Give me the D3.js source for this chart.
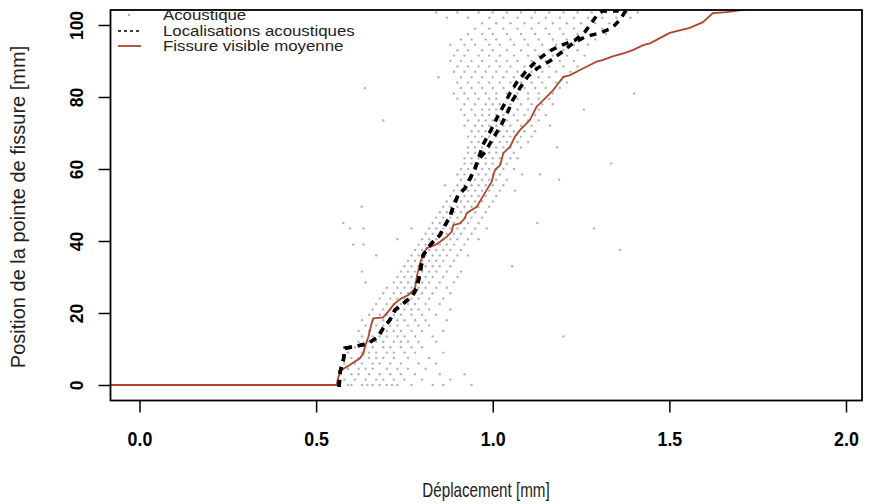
<!DOCTYPE html>
<html><head><meta charset="utf-8">
<script src="https://cdn.jsdelivr.net/npm/d3@7"></script>
<style>body{margin:0;background:#fff} text{font-family:"Liberation Sans",Arial,Helvetica,sans-serif}</style>
</head><body><svg id="c" width="870" height="504"></svg>
<script>
const xTicks=[0,0.5,1,1.5,2];
const yTicks=[0,20,40,60,80,100];
const legendLabels=["Acoustique","Localisations acoustiques","Fissure visible moyenne"];

// acoustic events: rows of y-levels with their x positions
const acRowsY=[0,1.5,3,4.5,6,7.5,9,10.5,12,13.5,15,16.5,18,19.5,21,22.5,24,25.5,27,28.5,30,31.5,33,34.5,36,37.5,39,40.5,42,43.5,45,46.5,48,49.5,51,52.5,54,55.5,57,58.5,60,61.5,63,64.5,66,67.5,69,70.5,72,73.5,75,76.5,78,79.5,81,82.5,84,85.5,87,88.5,90,91.5,93,94.5,96,97.5,99,100.5,102,103.5];
const acRowsX=[
[0.59,0.60,0.63,0.645,0.66,0.68,0.70,0.715,0.73,0.77,0.83,0.86,0.94],
[0.58,0.61,0.64,0.67,0.69,0.72,0.75,0.80,0.88],
[0.57,0.60,0.62,0.65,0.68,0.71,0.74,0.78,0.85,0.92],
[0.59,0.62,0.64,0.66,0.70,0.73,0.76,0.81],
[0.58,0.61,0.63,0.66,0.68,0.71,0.74,0.79,0.84],
[0.60,0.62,0.65,0.67,0.69,0.72,0.76,0.82],
[0.59,0.63,0.65,0.67,0.70,0.72,0.75,0.78,0.86],
[0.61,0.64,0.66,0.69,0.71,0.74,0.77,0.80],
[0.62,0.65,0.67,0.69,0.72,0.74,0.76,0.79,0.84],
[0.63,0.66,0.68,0.70,0.73,0.75,0.78,0.83,1.20],
[0.62,0.65,0.68,0.70,0.72,0.74,0.77,0.80,0.86],
[0.64,0.67,0.69,0.71,0.73,0.76,0.79,0.82],
[0.63,0.66,0.69,0.71,0.73,0.75,0.78,0.81,0.87],
[0.65,0.68,0.70,0.72,0.74,0.77,0.80,0.84],
[0.66,0.69,0.71,0.73,0.75,0.77,0.79,0.82,0.88],
[0.67,0.70,0.72,0.74,0.76,0.78,0.81,0.85],
[0.68,0.71,0.73,0.75,0.77,0.79,0.82,0.86],
[0.69,0.72,0.74,0.76,0.78,0.80,0.83,0.88],
[0.70,0.73,0.75,0.77,0.79,0.81,0.84,0.87],
[0.64,0.72,0.74,0.76,0.78,0.80,0.82,0.85,0.89],
[0.73,0.75,0.77,0.79,0.81,0.83,0.86,0.90],
[0.63,0.74,0.76,0.78,0.80,0.82,0.84,0.87,0.91],
[0.75,0.77,0.79,0.81,0.83,0.85,0.88,1.055],
[0.76,0.78,0.80,0.82,0.84,0.86,0.89],
[0.67,0.77,0.79,0.81,0.83,0.85,0.87,0.90,0.93],
[0.78,0.80,0.82,0.84,0.86,0.88,0.91,1.36],
[0.605,0.634,0.79,0.81,0.83,0.85,0.87,0.89,0.92],
[0.73,0.80,0.82,0.84,0.86,0.88,0.90,0.93,0.96],
[0.81,0.83,0.85,0.87,0.89,0.91,0.94],
[0.596,0.634,0.77,0.82,0.84,0.86,0.88,0.90,0.92,0.95,0.983,1.287],
[0.577,0.83,0.85,0.87,0.89,0.91,0.93,0.96,1.126],
[0.84,0.86,0.88,0.90,0.92,0.94,0.97],
[0.85,0.87,0.89,0.91,0.93,0.95,0.98],
[0.629,0.86,0.88,0.90,0.92,0.94,0.96,0.99],
[0.87,0.89,0.91,0.93,0.95,0.97,1.00],
[0.88,0.90,0.92,0.94,0.96,0.98,1.01],
[0.89,0.91,0.93,0.95,0.97,0.99,1.02,1.063],
[0.865,0.90,0.92,0.94,0.96,0.98,1.00,1.03],
[0.91,0.93,0.95,0.97,0.99,1.01,1.04,1.188],
[0.90,0.92,0.94,0.96,0.98,1.00,1.02,1.083,1.134],
[0.91,0.93,0.95,0.97,0.99,1.01,1.03,1.06],
[0.92,0.94,0.96,0.98,1.00,1.02,1.04,1.335],
[0.92,0.94,0.96,0.98,1.00,1.02,1.05,1.07],
[0.93,0.95,0.97,0.99,1.01,1.03,1.06],
[0.93,0.95,0.97,0.99,1.01,1.03,1.05,1.08,1.182],
[0.94,0.96,0.98,1.00,1.02,1.04,1.07,1.10],
[0.93,0.95,0.97,0.99,1.01,1.03,1.05,1.08,1.11],
[0.94,0.96,0.98,1.00,1.02,1.04,1.06,1.09,1.12],
[0.92,0.95,0.97,0.99,1.01,1.03,1.05,1.08,1.11,1.162],
[0.69,0.93,0.96,0.98,1.00,1.02,1.04,1.07,1.10,1.13],
[0.92,0.95,0.97,0.99,1.01,1.03,1.06,1.09,1.12,1.15],
[0.91,0.94,0.97,0.99,1.01,1.04,1.07,1.10,1.13,1.258],
[0.92,0.95,0.98,1.00,1.02,1.05,1.08,1.11,1.14,1.17],
[0.90,0.93,0.96,0.99,1.01,1.04,1.07,1.10,1.13,1.16],
[0.89,0.92,0.95,0.98,1.01,1.04,1.07,1.10,1.13,1.17,1.40],
[0.638,0.91,0.94,0.97,1.00,1.03,1.06,1.09,1.12,1.15,1.19],
[0.90,0.93,0.96,0.99,1.02,1.05,1.08,1.11,1.14,1.18,1.21],
[0.846,0.91,0.94,0.97,1.00,1.03,1.06,1.09,1.13,1.16,1.20],
[0.89,0.92,0.95,0.98,1.01,1.04,1.07,1.11,1.14,1.18,1.22],
[0.90,0.93,0.96,0.99,1.02,1.05,1.09,1.12,1.16,1.20,1.24],
[0.88,0.91,0.94,0.97,1.01,1.04,1.07,1.11,1.15,1.19,1.23],
[0.89,0.92,0.96,0.99,1.02,1.06,1.10,1.13,1.17,1.21,1.26],
[0.90,0.93,0.97,1.00,1.04,1.08,1.12,1.16,1.20,1.24],
[0.88,0.92,0.95,0.99,1.02,1.06,1.10,1.14,1.18,1.23,1.27],
[0.91,0.94,0.98,1.01,1.05,1.09,1.13,1.17,1.21,1.25,1.29],
[0.93,0.97,1.00,1.04,1.08,1.12,1.16,1.20,1.24,1.28,1.32],
[0.95,0.99,1.03,1.07,1.11,1.15,1.19,1.23,1.27,1.31],
[0.97,1.01,1.05,1.09,1.13,1.17,1.21,1.25,1.29,1.33],
[0.87,0.93,0.99,1.03,1.07,1.11,1.15,1.19,1.23,1.27,1.31,1.35,1.39],
[0.84,0.90,0.96,1.00,1.04,1.08,1.12,1.16,1.20,1.24,1.28,1.32,1.38,1.41]
];

// acoustic localisation curves [displacement, position]
const locShared=[[0.565,-0.5],[0.568,3.7],[0.577,6.9],[0.582,10.2],[0.615,10.8],[0.648,11.6],[0.676,13.4],[0.690,15.8],[0.709,18.1],[0.723,20.8],[0.747,22.7],[0.771,24.5],[0.785,26.9],[0.794,31],[0.803,36.1],[0.827,39.4],[0.851,41.7],[0.860,43.5],[0.879,46.8],[0.888,49.5],[0.902,52.8],[0.921,54.6],[0.936,57.4],[0.950,60.2],[0.958,62.5]];
const locA=[[0.972,66.7],[0.992,70.3],[1.012,74.2],[1.032,77.8],[1.049,81.1],[1.069,84.2],[1.092,86.9],[1.120,89.7],[1.156,92.5],[1.190,94.2],[1.233,95.8],[1.261,98.1],[1.281,100.8],[1.298,103.1],[1.312,103.9],[1.352,103.9],[1.36,107]];
const locB=[[0.978,64.7],[0.998,68.1],[1.021,71.7],[1.040,75.3],[1.057,79.2],[1.077,82.5],[1.100,85.8],[1.128,88.1],[1.162,90],[1.196,92.5],[1.224,94.7],[1.261,96.7],[1.304,97.8],[1.338,99.2],[1.360,101.4],[1.374,103.6],[1.389,107]];

// mean visible crack
const fissure=[[-0.2,0],[0.558,0],[0.563,2.3],[0.572,4.2],[0.596,5.6],[0.610,6.5],[0.624,7.4],[0.634,8.8],[0.638,10.6],[0.648,13.4],[0.657,17.1],[0.662,18.5],[0.690,18.8],[0.704,20.4],[0.718,22.2],[0.728,23.1],[0.742,24.1],[0.761,25],[0.771,25.9],[0.780,26.9],[0.785,30.1],[0.794,33.8],[0.803,36.1],[0.813,38],[0.837,38.9],[0.851,39.8],[0.870,41.2],[0.884,42.6],[0.888,44.4],[0.907,44.9],[0.921,46.3],[0.926,47.7],[0.940,48.6],[0.955,49.5],[0.969,51.9],[0.983,54.2],[0.997,56.5],[1.006,59.7],[1.021,61.1],[1.030,64.4],[1.049,66.2],[1.063,69],[1.077,70.8],[1.105,73.6],[1.124,77.3],[1.148,79.6],[1.171,81.9],[1.186,83.8],[1.200,85.6],[1.219,86.1],[1.247,87.5],[1.275,88.9],[1.294,89.8],[1.313,90.3],[1.337,91.2],[1.370,92.1],[1.398,93.1],[1.426,94.4],[1.445,94.9],[1.501,97.8],[1.558,99.2],[1.595,100.8],[1.623,103.3],[1.663,103.6],[1.708,104.2],[1.756,105.6]];

const svg=d3.select("#c");
const box={l:110.5,r:862,t:10,b:400.5};
const x=d3.scaleLinear().domain([0,2]).range([139.5,846]);
const y=d3.scaleLinear().domain([0,100]).range([385,25]);
const red="#b0452e";

svg.append("rect").attr("width",870).attr("height",504).attr("fill","#fff");
svg.append("clipPath").attr("id","clip").append("rect")
  .attr("x",box.l).attr("y",box.t).attr("width",box.r-box.l).attr("height",box.b-box.t);
const plot=svg.append("g").attr("clip-path","url(#clip)");

const pts=[];
acRowsY.forEach((yy,i)=>acRowsX[i].forEach(xx=>pts.push([xx,yy])));
plot.append("g").selectAll("circle").data(pts).join("circle")
  .attr("cx",d=>x(d[0])).attr("cy",d=>y(d[1])).attr("r",1.2).attr("fill","#b4b4b4");

const line=d3.line().x(d=>x(d[0])).y(d=>y(d[1]));
plot.append("path").datum(fissure).attr("d",line).attr("fill","none")
  .attr("stroke",red).attr("stroke-width",1.8);
[locShared.concat(locA),locShared.concat(locB)].forEach(s=>{
  plot.append("path").datum(s).attr("d",line).attr("fill","none")
    .attr("stroke","#000").attr("stroke-width",3.5).attr("stroke-dasharray","7,6");
});

svg.append("rect").attr("x",box.l).attr("y",box.t).attr("width",box.r-box.l).attr("height",box.b-box.t)
  .attr("fill","none").attr("stroke","#000").attr("stroke-width",1.8);

const xa=svg.append("g").attr("transform",`translate(0,${box.b})`)
  .call(d3.axisBottom(x).tickValues(xTicks).tickSize(12).tickFormat(d3.format(".1f")));
xa.select(".domain").remove();
xa.selectAll("line").attr("stroke","#000").attr("stroke-width",1.5);
xa.selectAll("text").attr("y",0).attr("dy",0).attr("font-size",21).attr("font-weight","bold")
  .attr("transform","translate(0,45) scale(0.85,1)")
  .attr("font-family","Liberation Sans, Arial, sans-serif").attr("fill","#000");

const ya=svg.append("g").attr("transform",`translate(${box.l},0)`)
  .call(d3.axisLeft(y).tickValues(yTicks).tickSize(12));
ya.select(".domain").remove();
ya.selectAll("line").attr("stroke","#000").attr("stroke-width",1.5);
ya.selectAll("text").attr("x",0).attr("dy",0).attr("text-anchor","middle")
  .attr("transform","translate(-28,0) rotate(-90)").attr("font-size",17.5).attr("font-weight","bold")
  .attr("font-family","Liberation Sans, Arial, sans-serif").attr("fill","#000");

svg.append("text").attr("transform","translate(486,497) scale(0.76,1)").attr("text-anchor","middle")
  .attr("font-size",20).attr("fill","#222").text("Déplacement [mm]");
svg.append("text").attr("transform","translate(25,207) rotate(-90)").attr("text-anchor","middle")
  .attr("font-size",20).attr("fill","#222").text("Position de la pointe de fissure [mm]");

// legend
const lg=svg.append("g");
lg.append("circle").attr("cx",129).attr("cy",15).attr("r",1.3).attr("fill","#b4b4b4");
lg.append("line").attr("x1",118).attr("x2",141).attr("y1",31).attr("y2",31)
  .attr("stroke","#000").attr("stroke-width",1.6).attr("stroke-dasharray","3,3");
lg.append("line").attr("x1",118).attr("x2",141).attr("y1",46).attr("y2",46)
  .attr("stroke",red).attr("stroke-width",1.8);
legendLabels.forEach((t,i)=>lg.append("text")
  .attr("transform",`translate(163,${20+i*15.6}) scale(1.22,1)`)
  .attr("font-size",13.8).attr("fill","#222").text(t));
</script></body></html>
